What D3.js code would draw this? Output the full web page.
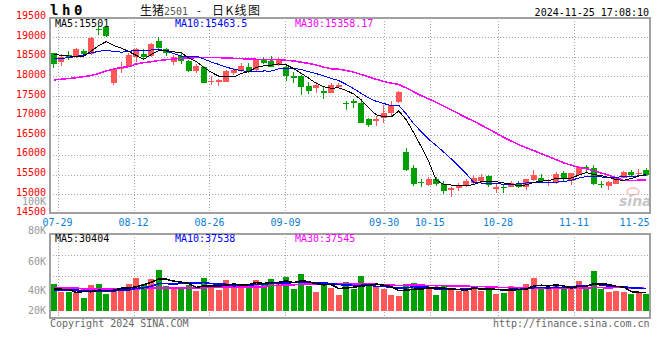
<!DOCTYPE html>
<html><head><meta charset="utf-8">
<script src="https://cdn.jsdelivr.net/npm/d3@7"></script>
<style>html,body{margin:0;padding:0;background:#fff;}svg{display:block;}</style>
</head><body>
<svg id="c" width="660" height="360"></svg>
<script>
// ---------------- DATA ----------------
const dates = ["07-26","07-29","07-30","07-31","08-01","08-02","08-05","08-06","08-07","08-08","08-09",
"08-12","08-13","08-14","08-15","08-16","08-19","08-20","08-21","08-22","08-23",
"08-26","08-27","08-28","08-29","08-30","09-02","09-03","09-04","09-05","09-06",
"09-09","09-10","09-11","09-12","09-13","09-18","09-19","09-20","09-23","09-24","09-25","09-26","09-27",
"09-30","10-08","10-09","10-10","10-11","10-14",
"10-15","10-16","10-17","10-18","10-21","10-22","10-23","10-24","10-25",
"10-28","10-29","10-30","10-31","11-01","11-04","11-05","11-06","11-07","11-08",
"11-11","11-12","11-13","11-14","11-15","11-18","11-19","11-20","11-21","11-22","11-25"];
const opens  = [18587,18374,18552,18519,18646,18570,19193,19264,17824,18180,18246,18480,18562,18519,18908,18697,18358,18526,18399,18137,
18246,17857,17849,17865,18078,18162,18246,18162,18417,18391,18290,18246,18017,18017,17763,17697,17635,17585,17722,17315,
17373,17330,16915,16872,16933,17076,17356,16068,15661,15304,15236,15388,15253,15108,15152,15236,15279,15337,15465,15141,
15192,15192,15279,15192,15363,15406,15279,15279,15533,15337,15490,15701,15661,15261,15218,15253,15422,15574,15523,15617];
const highs  = [18595,18557,18646,18709,18704,19000,19282,19290,18188,18366,18595,18709,18689,18842,19010,18714,18544,18587,18417,18307,
18264,18010,17933,18162,18221,18333,18348,18434,18485,18519,18460,18264,18104,18035,17865,17849,17737,17839,17824,17373,
17417,17373,16941,16992,17271,17373,17615,16170,15745,15381,15447,15447,15337,15185,15279,15381,15490,15515,15490,15253,
15253,15337,15337,15388,15617,15515,15381,15574,15592,15549,15727,15745,15745,15337,15337,15447,15592,15617,15635,15676];
const lows   = [18221,18264,18417,18475,18519,18544,19053,18990,17781,18093,18246,18366,18417,18493,18653,18519,18290,18307,18104,18093,
17824,17781,17763,17849,18035,18119,18078,18144,18315,18231,18272,17882,17839,17526,17551,17585,17417,17569,17697,17144,
17187,16813,16704,16737,16821,16999,17315,15599,15210,15177,15210,15218,15006,14938,15090,15192,15236,15294,15177,15040,
15040,15177,15152,15108,15345,15279,15218,15261,15337,15236,15473,15574,15236,15152,15108,15253,15414,15431,15465,15465];
const closes = [18307,18501,18485,18684,18570,18984,19173,19015,18180,18246,18544,18684,18501,18816,18714,18587,18501,18391,18137,18272,
17839,17882,17895,18144,18162,18272,18137,18417,18348,18246,18434,18010,17951,17737,17628,17781,17569,17781,17781,17289,
17330,16821,16763,16908,17060,17271,17610,15617,15261,15279,15381,15253,15090,15167,15236,15337,15406,15447,15236,15177,
15167,15279,15192,15381,15490,15337,15304,15515,15381,15533,15701,15643,15261,15236,15304,15406,15559,15490,15549,15490];
const volumes = [45560,32300,32300,30600,22100,43860,45560,28390,34000,39100,45560,56100,45560,53890,69190,42500,39780,36890,43690,34000,
56100,39780,35190,52190,43690,45390,45390,52190,43690,53890,45900,57290,36890,62390,42500,31790,47090,39100,26690,48790,
37400,58990,41990,39610,37740,26690,24990,45390,47090,38080,38080,26690,41990,39100,34000,34000,42500,34000,41990,28390,
30600,41990,36380,45390,56100,36380,36380,45390,36380,38080,50490,36380,67490,36380,31790,34000,31790,28390,30090,28390];
// moving-average values for days whose window starts before the first shown day
const ma5Lead  = [18569,18531,18519,18506];
const ma10Lead = [18447,18460,18473,18506,18544,18595,18638,18659,18638];
const ma30Lead = [17908,17926,17946,17966,17992,18022,18073,18137,18188,18226,18246,18315,18348,18374,18404,18424,18442,18455,18468,18475,
18475,18475,18475,18468,18460,18450,18442,18434,18429];
const vma5Lead  = [36400,36400,36000,31000];
const vma10Lead = [35200,35200,35200,35200,33500,33500,33500,33500,33500];
const vma30Lead = [39000,39000,39000,39000,36500,36500,36500,36500,36500,36500,36500,36500,38500,38500,38500,38500,38500,38500,38500,38500,
38500,40000,40000,40000,40000,40000,40000,40000,40000];
const priceTicks = [19500,19000,18500,18000,17500,17000,16500,16000,15500,15000,14500];
const volTicks = [100000,80000,60000,40000,20000];
const volTickLabels = ["100K","80K","60K","40K","20K"];
const dateTicks = ["07-29","08-12","08-26","09-09","09-30","10-15","10-28","11-11","11-25"];
const legendMain = {ma5:"MA5:15501", ma10:"MA10:15463.5", ma30:"MA30:15358.17"};
const legendVol  = {ma5:"MA5:30404", ma10:"MA10:37538", ma30:"MA30:37545"};

// ---------------- CHART ----------------
const svg = d3.select("#c");
const n = dates.length;
const RED = "#ff5757", GREEN = "#00a000", MA5C = "#000", MA10C = "#0000ff", MA30C = "#ff00ff";
const MONO = "'DejaVu Sans Mono', monospace";
const PL = 50, PR = 649.5, MT = 18.3, MB = 213.3, VT = 234.3, VB = 317.7;

const x = d3.scaleBand().domain(d3.range(n)).range([50, 650]).paddingInner(0.2).paddingOuter(0.1);
const bw = x.bandwidth();
const cx = i => Math.floor(x(i) + bw / 2) + 0.5;
const xg = d3.scaleLinear().domain([0, n - 1]).range([50, 650]);
const y = d3.scaleLinear().domain([14500, 19500]).range([213.9, 17.4]);
const yv = d3.scaleLinear().domain([0, 100000]).range([310.7, 310.7 - 100000 / 1700]);
const yvLabel = d3.scaleLinear().domain([20000, 40000, 60000, 80000, 100000]).range([310.3, 290.3, 261, 230.3, 201.8]);

function ma(vals, k, lead) {
  return vals.map((v, i) => i < k - 1 ? lead[i] : d3.mean(vals.slice(i - k + 1, i + 1)));
}

const grid = svg.append("g").attr("stroke", "#a8a8a8").attr("stroke-dasharray", "1,2").attr("shape-rendering", "crispEdges");
grid.selectAll("line.hm").data(priceTicks.filter(t => t > 14500 && t < 19500)).join("line")
  .attr("x1", PL).attr("x2", PR).attr("y1", d => Math.round(y(d)) + 0.5).attr("y2", d => Math.round(y(d)) + 0.5);
const gridIdx = dateTicks.slice(0, -1).map(d => dates.indexOf(d));
grid.selectAll("line.vm").data(gridIdx).join("line")
  .attr("x1", d => Math.round(xg(d)) + 0.5).attr("x2", d => Math.round(xg(d)) + 0.5).attr("y1", MT).attr("y2", MB);
grid.selectAll("line.vv").data(gridIdx).join("line")
  .attr("x1", d => Math.round(xg(d)) + 0.5).attr("x2", d => Math.round(xg(d)) + 0.5).attr("y1", VT).attr("y2", VB);
grid.selectAll("line.hv").data([1, 2]).join("line")
  .attr("x1", PL).attr("x2", PR)
  .attr("y1", d => Math.round(VT + (VB - VT) * d / 4) + 0.5).attr("y2", d => Math.round(VT + (VB - VT) * d / 4) + 0.5);

// watermark
const wm = svg.append("g").attr("opacity", 0.7);
wm.append("ellipse").attr("cx", 633).attr("cy", 191.5).attr("rx", 6).attr("ry", 3.5).attr("fill", "none").attr("stroke", "#f2a0a0").attr("stroke-width", 1.5);
wm.append("text").attr("x", 619).attr("y", 206).attr("font-family", "'DejaVu Sans', sans-serif").attr("font-weight", "bold")
  .attr("font-style", "italic").attr("font-size", 14).attr("fill", "#b0b0b0").text("sina");

// candles
const up = i => closes[i] >= opens[i];
const cg = svg.append("g").attr("shape-rendering", "crispEdges");
const idx = d3.range(n);
cg.selectAll("line.w").data(idx).join("line")
  .attr("x1", cx).attr("x2", cx)
  .attr("y1", i => y(highs[i])).attr("y2", i => y(lows[i]))
  .attr("stroke", i => up(i) ? RED : GREEN).attr("stroke-width", 1);
cg.selectAll("rect.b").data(idx).join("rect")
  .attr("x", i => x(i)).attr("width", bw)
  .attr("y", i => y(Math.max(opens[i], closes[i])))
  .attr("height", i => Math.max(1, Math.abs(y(opens[i]) - y(closes[i]))))
  .attr("fill", i => up(i) ? RED : GREEN);

// price MA lines
const lineP = d3.line().x((d, i) => x(i) + bw / 2).y(d => y(d));
const ma5 = ma(closes, 5, ma5Lead), ma10 = ma(closes, 10, ma10Lead), ma30 = ma(closes, 30, ma30Lead);
[[ma30, MA30C, 1.5], [ma10, MA10C, 1], [ma5, MA5C, 1]].forEach(([d, c, w]) =>
  svg.append("path").attr("d", lineP(d)).attr("fill", "none").attr("stroke", c).attr("stroke-width", w).attr("shape-rendering", "crispEdges"));

// volume bars
svg.append("g").attr("shape-rendering", "crispEdges").selectAll("rect").data(idx).join("rect")
  .attr("x", i => x(i)).attr("width", bw)
  .attr("y", i => yv(volumes[i])).attr("height", i => yv(0) - yv(volumes[i]))
  .attr("fill", i => up(i) ? RED : GREEN);
const lineV = d3.line().x((d, i) => x(i) + bw / 2).y(d => yv(d));
const vma5 = ma(volumes, 5, vma5Lead), vma10 = ma(volumes, 10, vma10Lead), vma30 = ma(volumes, 30, vma30Lead);
[[vma30, MA30C], [vma10, MA10C], [vma5, MA5C]].forEach(([d, c]) =>
  svg.append("path").attr("d", lineV(d)).attr("fill", "none").attr("stroke", c).attr("stroke-width", 1.6).attr("shape-rendering", "crispEdges"));

// borders
const bord = svg.append("g").attr("fill", "none").attr("stroke", "#a0a0a0").attr("stroke-width", 2).attr("shape-rendering", "crispEdges");
bord.append("rect").attr("x", PL).attr("y", MT).attr("width", PR - PL).attr("height", MB - MT);
bord.append("rect").attr("x", PL).attr("y", VT).attr("width", PR - PL).attr("height", VB - VT);

// y labels (price)
svg.append("g").selectAll("text").data(priceTicks).join("text")
  .attr("x", 46).attr("y", d => y(d) + 1.5).attr("text-anchor", "end")
  .attr("font-family", MONO).attr("font-size", 10).attr("fill", "#ff0000").text(d => d);
// volume labels
svg.append("g").selectAll("text").data(volTicks).join("text")
  .attr("x", 46).attr("y", d => yvLabel(d) + 3.5).attr("text-anchor", "end")
  .attr("font-family", MONO).attr("font-size", 10).attr("fill", "#999").text((d, i) => volTickLabels[i]);
// x labels
svg.append("g").selectAll("text").data(dateTicks).join("text")
  .attr("x", d => dates.indexOf(d) === n - 1 ? 649.5 : xg(dates.indexOf(d)))
  .attr("y", 225.5).attr("text-anchor", d => dates.indexOf(d) === n - 1 ? "end" : "middle")
  .attr("font-family", MONO).attr("font-size", 10).attr("fill", "#0b80d8").text(d => d);

// legends
function legend(obj, yy) {
  const g = svg.append("g").attr("font-family", MONO).attr("font-size", 10);
  g.append("text").attr("x", 55).attr("y", yy).attr("fill", MA5C).text(obj.ma5);
  g.append("text").attr("x", 175).attr("y", yy).attr("fill", MA10C).text(obj.ma10);
  g.append("text").attr("x", 295).attr("y", yy).attr("fill", MA30C).text(obj.ma30);
}
legend(legendMain, 27);
legend(legendVol, 242);

// header
svg.append("text").attr("x", 50).attr("y", 15).attr("font-family", MONO).attr("font-weight", "bold")
  .attr("font-size", 14).attr("letter-spacing", 3.6).attr("fill", "#000").text("lh0");
const CJK = "'Noto Sans CJK SC', sans-serif";
svg.append("text").attr("x", 140).attr("y", 15).attr("font-family", CJK).attr("font-size", 12).attr("fill", "#111").text("生猪");
svg.append("text").attr("x", 164).attr("y", 15).attr("font-family", MONO).attr("font-size", 10).attr("fill", "#555").text("2501");
svg.append("text").attr("x", 196).attr("y", 14).attr("font-family", MONO).attr("font-size", 10).attr("fill", "#111").text("-");
svg.append("text").attr("x", 212).attr("y", 15).attr("font-family", CJK).attr("font-size", 12).attr("fill", "#111")
  .attr("textLength", 48).attr("lengthAdjust", "spacing").text("日K线图");
svg.append("text").attr("x", 649).attr("y", 15.5).attr("text-anchor", "end").attr("font-family", MONO).attr("font-size", 10)
  .attr("fill", "#000").text("2024-11-25 17:08:10");

// footer
svg.append("text").attr("x", 50).attr("y", 327).attr("font-family", MONO).attr("font-size", 10).attr("fill", "#666").text("Copyright 2024 SINA.COM");
svg.append("text").attr("x", 649.5).attr("y", 327).attr("text-anchor", "end").attr("font-family", MONO).attr("font-size", 10).attr("fill", "#666").text("http://finance.sina.com.cn");
</script>
</body></html>
